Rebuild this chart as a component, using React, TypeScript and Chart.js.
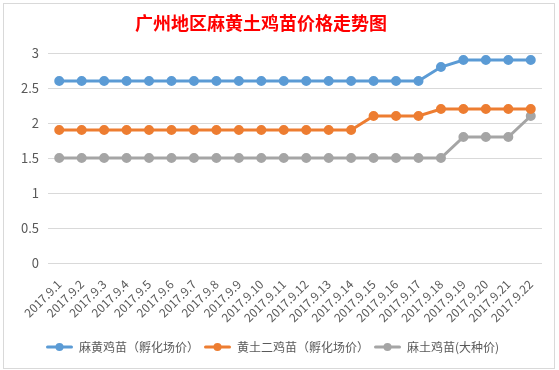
import React, { useEffect, useRef } from 'react';
import { Chart, registerables } from 'chart.js';

Chart.register(...registerables);

const chartTitle = '广州地区麻黄土鸡苗价格走势图';

const categories = [
  '2017.9.1', '2017.9.2', '2017.9.3', '2017.9.4', '2017.9.5', '2017.9.6',
  '2017.9.7', '2017.9.8', '2017.9.9', '2017.9.10', '2017.9.11', '2017.9.12',
  '2017.9.13', '2017.9.14', '2017.9.15', '2017.9.16', '2017.9.17', '2017.9.18',
  '2017.9.19', '2017.9.20', '2017.9.21', '2017.9.22',
];

const seriesNames = ['麻黄鸡苗（孵化场价）', '黄土二鸡苗（孵化场价）', '麻土鸡苗(大种价)'];

const mahuangPrice = [
  2.6, 2.6, 2.6, 2.6, 2.6, 2.6, 2.6, 2.6, 2.6, 2.6, 2.6,
  2.6, 2.6, 2.6, 2.6, 2.6, 2.6, 2.8, 2.9, 2.9, 2.9, 2.9,
];
const huangtuPrice = [
  1.9, 1.9, 1.9, 1.9, 1.9, 1.9, 1.9, 1.9, 1.9, 1.9, 1.9,
  1.9, 1.9, 1.9, 2.1, 2.1, 2.1, 2.2, 2.2, 2.2, 2.2, 2.2,
];
const matuPrice = [
  1.5, 1.5, 1.5, 1.5, 1.5, 1.5, 1.5, 1.5, 1.5, 1.5, 1.5,
  1.5, 1.5, 1.5, 1.5, 1.5, 1.5, 1.5, 1.8, 1.8, 1.8, 2.1,
];

const yMin = 0;
const yMax = 3;
const yStep = 0.5;

const colors = ['#5b9bd5', '#ed7d31', '#a5a5a5'];
const FONT = '"Noto Sans CJK SC", "Noto Sans", sans-serif';
const TEXT = '#595959';

function makeMarker(color: string): HTMLCanvasElement {
  const c = document.createElement('canvas');
  c.width = 27;
  c.height = 10;
  const ctx = c.getContext('2d')!;
  ctx.strokeStyle = color;
  ctx.lineWidth = 3;
  ctx.lineCap = 'round';
  ctx.beginPath();
  ctx.moveTo(1.5, 5);
  ctx.lineTo(25.5, 5);
  ctx.stroke();
  ctx.fillStyle = color;
  ctx.beginPath();
  ctx.arc(13.5, 5, 4, 0, Math.PI * 2);
  ctx.fill();
  return c;
}

const framePlugin = {
  id: 'frame',
  beforeDraw(chart: any) {
    const { ctx, width, height } = chart;
    ctx.save();
    ctx.fillStyle = '#ffffff';
    ctx.fillRect(0, 0, width, height);
    ctx.strokeStyle = '#d9d9d9';
    ctx.lineWidth = 1;
    ctx.strokeRect(3.5, 3.5, 551, 365);
    ctx.fillStyle = '#ff0000';
    ctx.font = `bold 18px ${FONT}`;
    ctx.textAlign = 'center';
    ctx.textBaseline = 'middle';
    ctx.fillText(chartTitle, 261, 23);
    ctx.restore();
  },
};

export default function App() {
  const ref = useRef<HTMLCanvasElement | null>(null);

  useEffect(() => {
    document.body.style.margin = '0';
    const markers = colors.map(makeMarker);
    const datasets = [mahuangPrice, huangtuPrice, matuPrice].map((data, i) => ({
      label: seriesNames[i],
      data,
      borderColor: colors[i],
      backgroundColor: colors[i],
      pointBackgroundColor: colors[i],
      pointBorderColor: colors[i],
      borderWidth: 3,
      pointRadius: 3.5,
      pointHoverRadius: 3.5,
      tension: 0,
      fill: false,
    }));

    const chart = new Chart(ref.current!, {
      type: 'line',
      data: { labels: categories, datasets },
      plugins: [framePlugin],
      options: {
        responsive: false,
        animation: false,
        layout: { padding: { top: 53, left: 3, right: 17, bottom: 7 } },
        plugins: {
          title: { display: false },
          tooltip: { enabled: false },
          legend: {
            display: true,
            position: 'bottom',
            labels: {
              color: TEXT,
              font: { family: FONT, size: 12 },
              usePointStyle: true,
              pointStyleWidth: 27,
              padding: 5,
              generateLabels: (c: any) => {
                const base = (Chart as any).defaults.plugins.legend.labels.generateLabels(c);
                return base.map((it: any, i: number) => ({ ...it, pointStyle: markers[i] }));
              },
            },
          },
        },
        scales: {
          x: {
            offset: true,
            grid: { display: false },
            border: { display: false },
            ticks: {
              color: TEXT,
              font: { family: FONT, size: 12 },
              minRotation: 45,
              maxRotation: 45,
              autoSkip: false,
              padding: 6,
            },
            afterFit: (s: any) => {
              s.height = 73;
            },
          },
          y: {
            min: yMin,
            max: yMax,
            grid: { color: '#d9d9d9', drawTicks: false },
            border: { display: false },
            ticks: {
              stepSize: yStep,
              color: TEXT,
              font: { family: FONT, size: 13 },
              padding: 9,
              callback: (v: any) => String(Number(v)),
            },
            afterFit: (s: any) => {
              s.width = 45;
            },
          },
        },
      },
    } as any);
    return () => chart.destroy();
  }, []);

  return (
    <div style={{ width: 559, height: 370 }}>
      <canvas ref={ref} width={559} height={370} style={{ display: 'block' }} />
    </div>
  );
}
